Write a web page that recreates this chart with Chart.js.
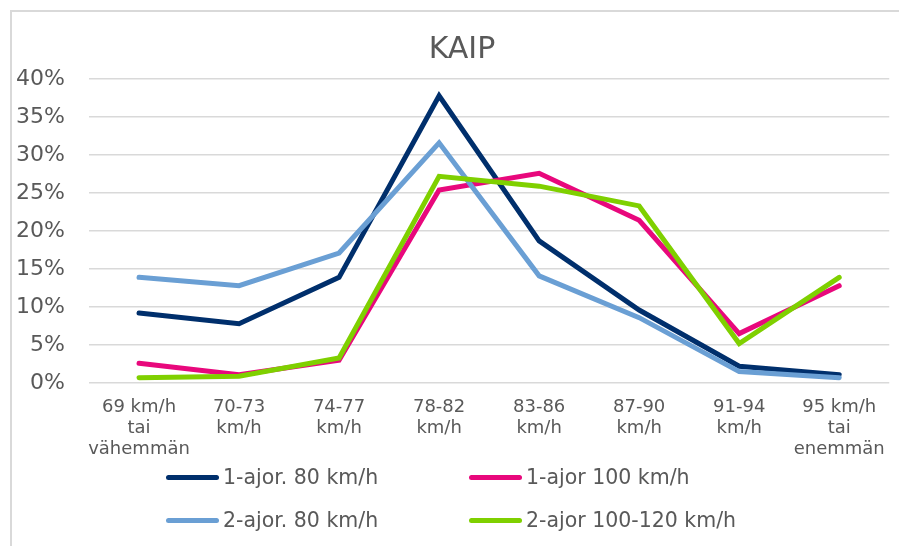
<!DOCTYPE html>
<html><head><meta charset="utf-8">
<script src="https://cdn.jsdelivr.net/npm/chart.js@4.4.1/dist/chart.umd.min.js"></script>
<style>
html,body{margin:0;padding:0;background:#fff;overflow:hidden}
#wrap{position:relative;width:899px;height:546px;overflow:hidden}
#frame{position:absolute;left:10px;top:10px;width:1000px;height:1000px;border:2px solid #d9d9d9;box-sizing:border-box}
canvas{position:absolute;left:0;top:0}
</style></head><body>
<div id="wrap"><div id="frame"></div><canvas id="c" width="899" height="546"></canvas></div>
<script>
const chartTitle = "KAIP";
const categories = [["69 km/h","tai","vähemmän"],["70-73","km/h"],["74-77","km/h"],["78-82","km/h"],["83-86","km/h"],["87-90","km/h"],["91-94","km/h"],["95 km/h","tai","enemmän"]];
const seriesNames = ["1-ajor. 80 km/h","1-ajor 100 km/h","2-ajor. 80 km/h","2-ajor 100-120 km/h"];
const ajor1_80 = [9.2, 7.8, 13.9, 37.8, 18.7, 9.6, 2.2, 1.1];
const ajor1_100 = [2.6, 1.1, 3.0, 25.4, 27.6, 21.4, 6.5, 12.8];
const ajor2_80 = [13.9, 12.8, 17.1, 31.6, 14.1, 8.6, 1.5, 0.7];
const ajor2_100_120 = [0.7, 0.9, 3.3, 27.2, 25.9, 23.3, 5.2, 13.9];
const yTicks = [0,5,10,15,20,25,30,35,40];

const FONT = "'DejaVu Sans', Verdana, sans-serif";
const TXT = '#595959';
const colors = ['#002f6c', '#e8087c', '#6a9fd4', '#7fd000'];
const seriesData = [ajor1_80, ajor1_100, ajor2_80, ajor2_100_120];

const decor = {
  id: 'decor',
  afterDraw(chart, args, opts) {
    const ctx = chart.ctx;
    ctx.save();
    // title (centred on the full chart object, which extends beyond the window)
    ctx.font = opts.titleSize + 'px ' + FONT;
    ctx.fillStyle = TXT;
    ctx.textAlign = 'center';
    ctx.textBaseline = 'middle';
    ctx.fillText(opts.title, opts.titleX, opts.titleY);
    // legend in a 2-column grid
    ctx.font = opts.fontSize + 'px ' + FONT;
    chart.data.datasets.forEach((ds, i) => {
      const col = i % 2, row = Math.floor(i / 2);
      const x = opts.cols[col], y = opts.rows[row];
      ctx.strokeStyle = ds.borderColor;
      ctx.lineWidth = 5;
      ctx.lineCap = 'round';
      ctx.beginPath();
      ctx.moveTo(x + 2.5, y);
      ctx.lineTo(x + opts.markerWidth - 2.5, y);
      ctx.stroke();
      ctx.fillStyle = TXT;
      ctx.textBaseline = 'middle';
      ctx.textAlign = 'left';
      ctx.fillText(ds.label, x + opts.markerWidth + opts.gap, y + 1);
    });
    ctx.restore();
  }
};

new Chart(document.getElementById('c'), {
  type: 'line',
  data: {
    labels: categories,
    datasets: seriesNames.map((name, i) => ({
      label: name,
      data: seriesData[i],
      borderColor: colors[i],
      backgroundColor: colors[i],
      borderWidth: 5,
      pointRadius: 0,
      pointHoverRadius: 0,
      tension: 0,
      borderCapStyle: 'round',
      order: 4 - i
    }))
  },
  options: {
    responsive: false,
    animation: false,
    layout: { padding: { left: 10, right: 4, top: 79, bottom: 88 } },
    plugins: {
      legend: { display: false },
      tooltip: { enabled: false },
      title: { display: false },
      decor: { title: chartTitle, titleX: 462, titleY: 50.5, titleSize: 30,
               cols: [166, 469], rows: [477.5, 520.5], markerWidth: 53, gap: 4, fontSize: 20.5 }
    },
    scales: {
      x: {
        offset: true,
        grid: { display: false, drawTicks: false },
        border: { display: false },
        ticks: {
          color: TXT,
          font: { family: FONT, size: 18, lineHeight: 1.17 },
          padding: 14,
          maxRotation: 0,
          autoSkip: false
        },
        afterFit(scale) { scale.height = 75; }
      },
      y: {
        min: 0,
        max: 40,
        afterBuildTicks(scale) { scale.ticks = yTicks.map(v => ({ value: v })); },
        grid: { color: '#d9d9d9', lineWidth: 1.5, drawTicks: false },
        border: { display: false },
        ticks: {
          color: TXT,
          font: { family: FONT, size: 22 },
          padding: 24,
          callback: v => v + '%'
        },
        afterFit(scale) { scale.width = 79; }
      }
    }
  },
  plugins: [decor]
});
</script>
</body></html>
